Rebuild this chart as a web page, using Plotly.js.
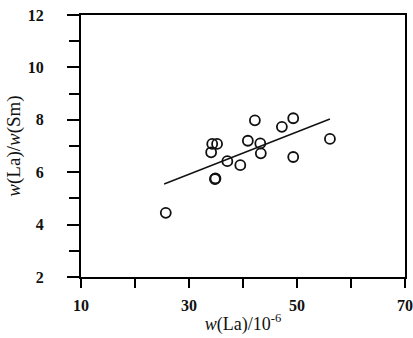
<!DOCTYPE html>
<html>
<head>
<meta charset="utf-8">
<script src="https://cdn.plot.ly/plotly-3.0.1.min.js"></script>
<style>
  html, body { margin: 0; padding: 0; background: #fff; }
  #chart { width: 413px; height: 338px; }
</style>
</head>
<body>
<div id="chart"></div>
<script>
// La content (10^-6) and La/Sm ratio of the samples
const laContent = [25.7, 34.1, 34.3, 35.2, 34.8, 34.9, 37.1, 39.5, 40.9, 42.2, 43.2, 43.3, 47.2, 49.3, 49.3, 56.1];
const laSmRatio = [4.45, 6.76, 7.08, 7.08, 5.74, 5.76, 6.42, 6.27, 7.20, 7.98, 7.10, 6.72, 7.73, 8.06, 6.58, 7.27];

// regression line end points
const fitX = [25.4, 56.1];
const fitY = [5.55, 8.03];

// labelled ticks
const xTickVals = [10, 30, 50, 70];
const yTickVals = [2, 4, 6, 8, 10, 12];

const serif = '"Liberation Serif", "DejaVu Serif", serif';

const traces = [
  {
    x: fitX, y: fitY, type: 'scatter', mode: 'lines',
    line: { color: '#111', width: 1.4 },
    hoverinfo: 'skip', showlegend: false
  },
  {
    x: laContent, y: laSmRatio, type: 'scatter', mode: 'markers',
    marker: { symbol: 'circle-open', size: 10, color: '#111', line: { color: '#111', width: 1.8 } },
    showlegend: false
  }
];

const axisCommon = {
  showgrid: false, zeroline: false,
  showline: true, linecolor: '#000', linewidth: 2, mirror: true,
  ticks: 'outside', tickcolor: '#000', tickwidth: 2,
  tickfont: { family: serif, size: 16, color: '#111', weight: 700 },
  fixedrange: true
};

const layout = {
  width: 413, height: 338,
  margin: { l: 81, r: 8, t: 15, b: 61 },
  paper_bgcolor: '#fff', plot_bgcolor: '#fff',
  xaxis: Object.assign({}, axisCommon, {
    range: [10, 70], tickvals: xTickVals, ticktext: xTickVals.map(String),
    ticklen: 9, ticklabelstandoff: 4,
    minor: { dtick: 10, tick0: 10, ticks: 'outside', ticklen: 9, tickwidth: 2, tickcolor: '#000' },
    title: { text: '<i>w</i>(La)/10<sup>-6</sup>', font: { family: serif, size: 18, color: '#111' }, standoff: 4 }
  }),
  yaxis: Object.assign({}, axisCommon, {
    range: [2, 12], tickvals: yTickVals, ticktext: yTickVals.map(String),
    ticklen: 12, ticklabelstandoff: 20,
    minor: { dtick: 1, tick0: 2, ticks: 'outside', ticklen: 10, tickwidth: 2, tickcolor: '#000' },
    title: { text: '<i>w</i>(La)/<i>w</i>(Sm)', font: { family: serif, size: 19, color: '#111' }, standoff: 2 }
  })
};

Plotly.newPlot('chart', traces, layout, { staticPlot: true, displayModeBar: false });
</script>
</body>
</html>
